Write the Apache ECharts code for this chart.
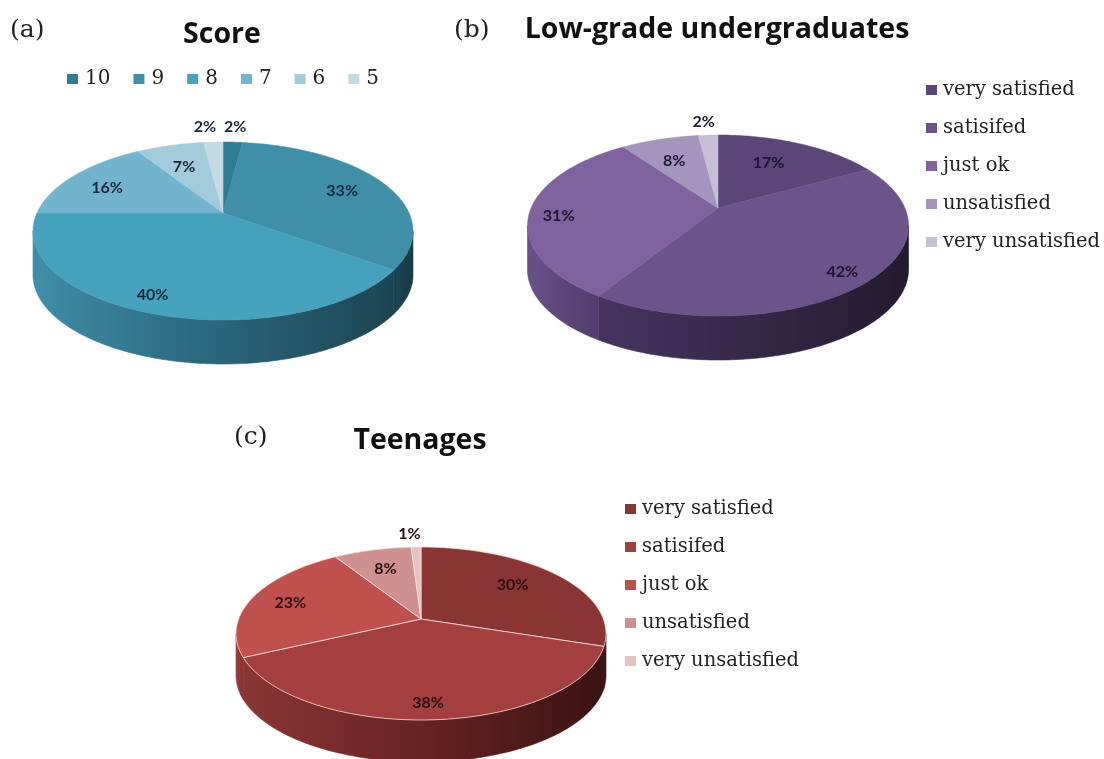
<!DOCTYPE html>
<html>
<head>
<meta charset="utf-8">
<style>
  html, body { margin: 0; padding: 0; background: #fff; }
  #page { position: relative; width: 1104px; height: 759px; overflow: hidden; }
  #page div.chart { position: absolute; }
</style>
<script src="https://cdn.jsdelivr.net/npm/echarts@6/dist/echarts.min.js"></script>
</head>
<body>
<div id="page">
  <div class="chart" id="chartA" style="left:0;top:0;width:440px;height:385px"></div>
  <div class="chart" id="chartB" style="left:440px;top:0;width:664px;height:385px"></div>
  <div class="chart" id="chartC" style="left:0;top:400px;width:1104px;height:359px"></div>
</div>
<script>
const scoreNames = ["10", "9", "8", "7", "6", "5"];
const scoreValues = [2, 33, 40, 16, 7, 2];
const satisfactionNames = ["very satisfied", "satisifed", "just ok", "unsatisfied", "very unsatisfied"];
const undergraduateValues = [17, 42, 31, 8, 2];
const teenageValues = [30, 38, 23, 8, 1];

const serif = "DejaVu Serif";
const sans = "Lato";
const titleFont = "Open Sans";

// shape of each tilted pie on the page: the disk is put through a perspective projection
const pieA = {
  box: [0, 0], cx: 223, halfWidth: 190, top: 142, apex: 213, bottom: 320, depth: 44,
  colors: ["#2e7d94", "#3f8fa9", "#47a2be", "#72b4cd", "#a3cbd9", "#c5dbe4"],
  walls: [
    ["#1b4250", "#1b4250"], ["#1b4654", "#193a46"],
    [["#3f8ea8", 0], ["#2c6a7f", 0.45], ["#1c4552", 1]], ["#3f8ea8", "#3f8ea8"],
    ["#3f8ea8", "#3f8ea8"], ["#3f8ea8", "#3f8ea8"]
  ],
  labelColor: "#14283a",
  labelOffsets: [[5, -34], [6, 0], [-24, 16], [-9, 2], [0, 3], [-11, -34]]
};
const pieB = {
  box: [440, 0], cx: 718, halfWidth: 190.5, top: 135, apex: 208, bottom: 316, depth: 44,
  colors: ["#5c4577", "#6c5389", "#80629f", "#a594bc", "#c7bdd5"],
  walls: [
    ["#3a2a4e", "#3a2a4e"], ["#46345f", "#241a30"], ["#6a5086", "#523c6d"],
    ["#6a5086", "#6a5086"], ["#6a5086", "#6a5086"]
  ],
  labelColor: "#1d1530",
  labelOffsets: [[-9, 2], [25, 15], [-28, 6], [-1, 3], [-7, -33]]
};
const pieC = {
  box: [0, 400], cx: 421, halfWidth: 185, top: 547, apex: 619, bottom: 720, depth: 42,
  colors: ["#8a3533", "#a43f3f", "#c0504d", "#ce9190", "#e5c3c2"],
  walls: [
    ["#3c1413", "#3c1413"], [["#8a3534", 0], ["#6a2423", 0.45], ["#3a1312", 1]], ["#97403e", "#83302f"],
    ["#97403e", "#97403e"], ["#97403e", "#97403e"]
  ],
  rimLine: "rgba(255,225,215,0.75)",
  labelColor: "#2a0d0d",
  labelOffsets: [[-5, -2], [-2, 17], [-12, 0], [0, 0], [-8, -33]]
};

function projector(pie) {
  const c = (2 * pie.apex - pie.top - pie.bottom) / (pie.bottom - pie.top);
  const a = pie.apex - pie.top + pie.top * c;
  const R = pie.halfWidth * Math.sqrt(1 - c * c);
  return {
    c: c,
    // pct runs clockwise from 12 o'clock, r is 0..1 from the apex to the rim
    at(pct, r) {
      const t = (pct / 100) * 2 * Math.PI;
      const u = r * Math.sin(t);
      const v = -r * Math.cos(t);
      const d = 1 + c * v;
      return [pie.cx + (R * u) / d - pie.box[0], (pie.apex + a * v) / d - pie.box[1]];
    }
  };
}

function wallFill(stops) {
  const list = Array.isArray(stops[0])
    ? stops.map(s => ({ offset: s[1], color: s[0] }))
    : [{ offset: 0, color: stops[0] }, { offset: 1, color: stops[1] }];
  return new echarts.graphic.LinearGradient(0, 0, 1, 0, list);
}

function sliceSeries(pie, name, index, values) {
  const proj = projector(pie);
  const start = values.slice(0, index).reduce((s, v) => s + v, 0);
  return {
    type: "custom",
    name: name,
    coordinateSystem: "none",
    itemStyle: { color: pie.colors[index] },
    data: [[values[index], start]],
    renderItem(params, api) {
      const value = api.value(0);
      const from = api.value(1);
      const to = from + value;
      const children = [];

      // the rim only shows on the lower part, between the two silhouette points
      const edge = (Math.acos(proj.c) / (2 * Math.PI)) * 100;
      const wallFrom = Math.max(from, edge);
      const wallTo = Math.min(to, 100 - edge);
      if (wallTo > wallFrom) {
        const rim = [];
        for (let p = wallFrom; p < wallTo; p += 0.25) rim.push(proj.at(p, 1));
        rim.push(proj.at(wallTo, 1));
        const lower = rim.map(p => [p[0], p[1] + pie.depth]).reverse();
        const fill = wallFill(pie.walls[index]);
        children.push({
          type: "polygon",
          shape: { points: rim.concat(lower) },
          style: { fill: fill, stroke: fill, lineWidth: 0.6 }
        });
      }

      const top = [proj.at(0, 0)];
      for (let p = from; p < to; p += 0.25) top.push(proj.at(p, 1));
      top.push(proj.at(to, 1));
      children.push({
        type: "polygon",
        z2: 5,
        shape: { points: top },
        style: {
          fill: pie.colors[index],
          stroke: pie.rimLine || pie.colors[index],
          lineWidth: pie.rimLine ? 1 : 0.5
        }
      });

      const mid = proj.at(from + value / 2, 0.7);
      const off = pie.labelOffsets[index];
      children.push({
        type: "text",
        z2: 50,
        x: mid[0] + off[0],
        y: mid[1] + off[1],
        style: {
          text: value + "%",
          align: "center",
          verticalAlign: "middle",
          fontFamily: sans,
          fontWeight: "bold",
          fontSize: 16,
          fill: pie.labelColor
        }
      });
      return { type: "group", children: children };
    }
  };
}

function drawPie(domId, pie, names, values, tag, title, legend) {
  const chart = echarts.init(document.getElementById(domId));
  chart.setOption({
    animation: false,
    backgroundColor: "#fff",
    title: [
      {
        text: tag.text,
        left: tag.x,
        top: tag.y,
        textStyle: { fontFamily: serif, fontWeight: "normal", fontSize: 25, color: "#222" }
      },
      {
        text: title.text,
        left: title.x,
        top: title.y,
        textAlign: "center",
        textStyle: { fontFamily: titleFont, fontWeight: "bold", fontSize: 28.5, color: "#111" }
      }
    ],
    legend: Object.assign(
      {
        selectedMode: false,
        icon: "rect",
        itemWidth: 11,
        itemHeight: 10,
        padding: 0,
        data: names,
        textStyle: { fontFamily: serif, fontSize: 19.5, color: "#222", padding: [0, 0, 0, 1] }
      },
      legend
    ),
    series: names.map((name, i) => sliceSeries(pie, name, i, values))
  });
  return chart;
}

drawPie("chartA", pieA, scoreNames, scoreValues,
  { text: "(a)", x: 5, y: 13 },
  { text: "Score", x: 217, y: 15 },
  { orient: "horizontal", left: 67, top: 69, itemGap: 23, textStyle: { fontFamily: serif, fontSize: 20, color: "#222", padding: [0, 0, 0, 2] } });

drawPie("chartB", pieB, satisfactionNames, undergraduateValues,
  { text: "(b)", x: 9, y: 13 },
  { text: "Low-grade undergraduates", x: 272, y: 10 },
  { orient: "vertical", left: 486, top: 80, itemGap: 18 });

drawPie("chartC", pieC, satisfactionNames, teenageValues,
  { text: "(c)", x: 229, y: 20 },
  { text: "Teenages", x: 415, y: 21 },
  { orient: "vertical", left: 625, top: 99, itemGap: 18 });
</script>
</body>
</html>
